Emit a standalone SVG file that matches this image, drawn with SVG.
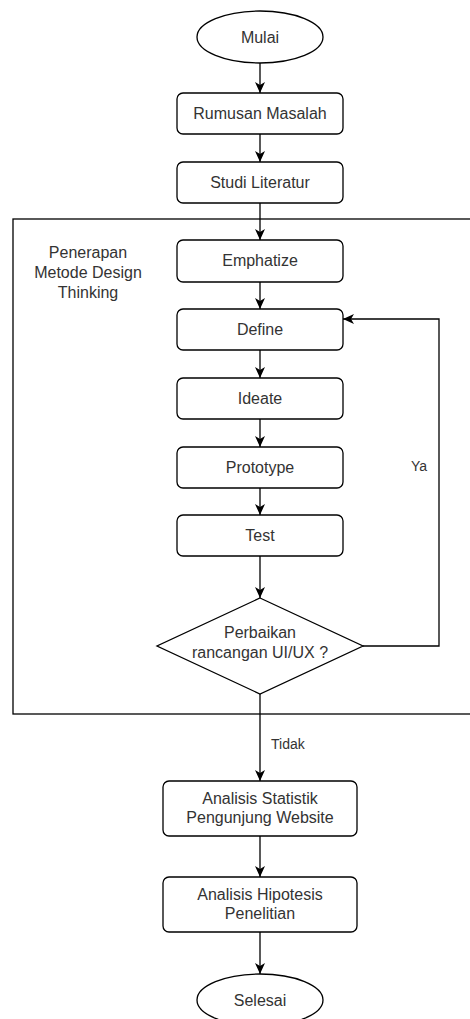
<svg xmlns="http://www.w3.org/2000/svg" width="470" height="1019" viewBox="0 0 470 1019">
<style>
.n{fill:#fff;stroke:#000;stroke-width:1.3}
.t{font-family:"Liberation Sans",Arial,sans-serif;font-size:16px;fill:#333;text-anchor:middle}
.l{font-family:"Liberation Sans",Arial,sans-serif;font-size:14px;fill:#333}
.c{fill:none;stroke:#000;stroke-width:1.3}
</style>
<defs>
<marker id="ah" markerUnits="userSpaceOnUse" markerWidth="12" markerHeight="12" viewBox="0 0 12 10" refX="11" refY="5" orient="auto">
<path d="M0,0 L11,5 L0,10 L3,5 z" fill="#000"/>
</marker>
</defs>
<rect id="container" x="13" y="219" width="470" height="495" fill="none" stroke="#000" stroke-width="1.3"/>
<text class="t" x="88" y="258">Penerapan</text>
<text class="t" x="88" y="278">Metode Design</text>
<text class="t" x="88" y="298">Thinking</text>
<g id="connectors">
<line class="c" x1="260" y1="63" x2="260" y2="93" marker-end="url(#ah)"/>
<line class="c" x1="260" y1="134" x2="260" y2="162" marker-end="url(#ah)"/>
<line class="c" x1="260" y1="203" x2="260" y2="240" marker-end="url(#ah)"/>
<line class="c" x1="260" y1="282" x2="260" y2="309" marker-end="url(#ah)"/>
<line class="c" x1="260" y1="350" x2="260" y2="378" marker-end="url(#ah)"/>
<line class="c" x1="260" y1="419" x2="260" y2="447" marker-end="url(#ah)"/>
<line class="c" x1="260" y1="488" x2="260" y2="515" marker-end="url(#ah)"/>
<line class="c" x1="260" y1="556" x2="260" y2="598" marker-end="url(#ah)"/>
<polyline class="c" points="363,646 439,646 439,319 343,319" marker-end="url(#ah)"/>
<text class="l" x="411" y="471">Ya</text>
<line class="c" x1="260" y1="694" x2="260" y2="781" marker-end="url(#ah)"/>
<text class="l" x="271" y="749">Tidak</text>
<line class="c" x1="260" y1="836" x2="260" y2="877" marker-end="url(#ah)"/>
<line class="c" x1="260" y1="932" x2="260" y2="974" marker-end="url(#ah)"/>
</g>
<g id="mulai"><ellipse class="n" cx="260" cy="37" rx="63" ry="26"/><text class="t" x="260" y="43">Mulai</text></g>
<g id="rumusan"><rect class="n" x="177" y="93" width="166" height="41" rx="6"/><text class="t" x="260" y="119">Rumusan Masalah</text></g>
<g id="studi"><rect class="n" x="177" y="162" width="166" height="41" rx="6"/><text class="t" x="260" y="188">Studi Literatur</text></g>
<g id="emphatize"><rect class="n" x="177" y="240" width="166" height="42" rx="6"/><text class="t" x="260" y="266">Emphatize</text></g>
<g id="define"><rect class="n" x="177" y="309" width="166" height="41" rx="6"/><text class="t" x="260" y="335">Define</text></g>
<g id="ideate"><rect class="n" x="177" y="378" width="166" height="41" rx="6"/><text class="t" x="260" y="404">Ideate</text></g>
<g id="prototype"><rect class="n" x="177" y="447" width="166" height="41" rx="6"/><text class="t" x="260" y="473">Prototype</text></g>
<g id="test"><rect class="n" x="177" y="515" width="166" height="41" rx="6"/><text class="t" x="260" y="541">Test</text></g>
<g id="decision"><polygon class="n" points="260,598 363,646 260,694 157,646"/><text class="t" x="260" y="638">Perbaikan</text><text class="t" x="260" y="658">rancangan UI/UX ?</text></g>
<g id="statistik"><rect class="n" x="163" y="781" width="194" height="55" rx="6"/><text class="t" x="260" y="804">Analisis Statistik</text><text class="t" x="260" y="823">Pengunjung Website</text></g>
<g id="hipotesis"><rect class="n" x="163" y="877" width="194" height="55" rx="6"/><text class="t" x="260" y="900">Analisis Hipotesis</text><text class="t" x="260" y="919">Penelitian</text></g>
<g id="selesai"><ellipse class="n" cx="260" cy="1000" rx="63" ry="26"/><text class="t" x="260" y="1006">Selesai</text></g>
</svg>
